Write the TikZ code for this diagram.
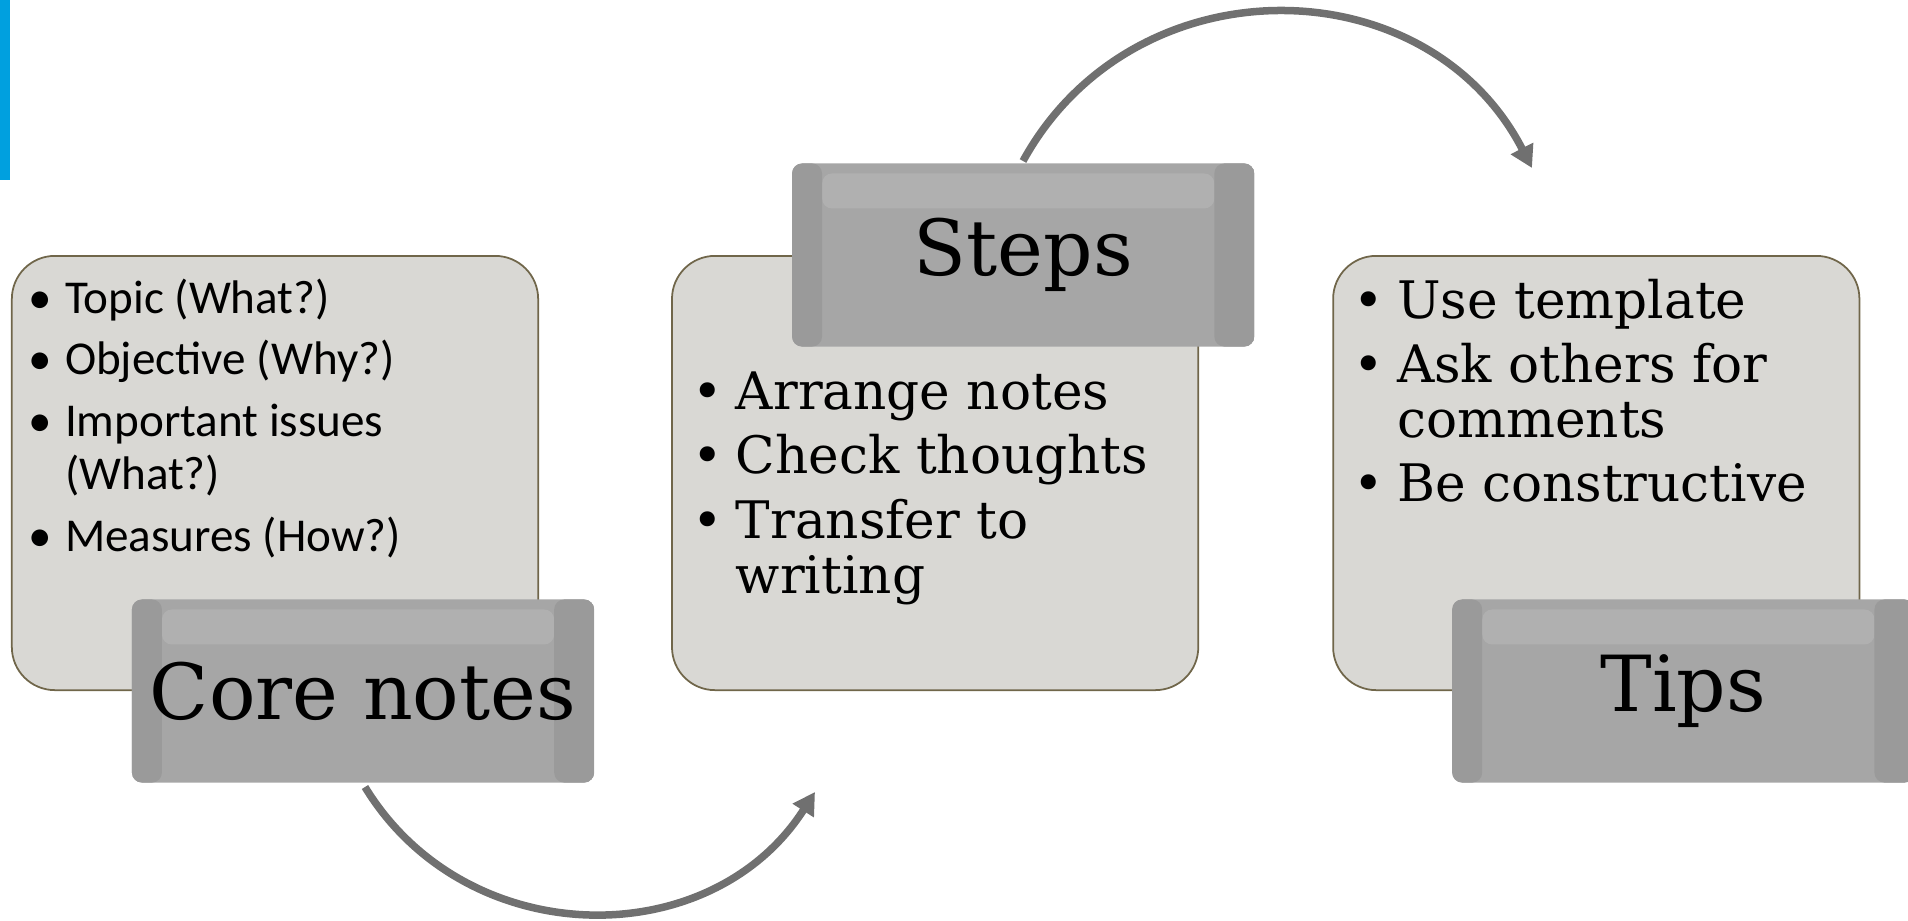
\documentclass[tikz,border=0pt]{standalone}
\usepackage{fontspec}
\usetikzlibrary{arrows.meta, positioning}
\newfontfamily\notefont{Carlito}
\newfontfamily\headfont{DejaVu Serif}
\definecolor{boxfill}{RGB}{217,216,212}
\definecolor{boxline}{RGB}{112,102,74}
\definecolor{labfill}{RGB}{166,166,166}
\definecolor{labdark}{RGB}{154,154,154}
\definecolor{lablight}{RGB}{176,176,176}
\definecolor{arrowgray}{RGB}{112,112,112}
\definecolor{barblue}{RGB}{0,160,223}
\newcommand{\itembul}{\makebox[9.5pt][l]{\hspace{-1pt}\textbullet}}
\newcommand{\itemgap}{\hspace*{9.5pt}}
\newcommand{\serifbul}{\makebox[10pt][l]{\hspace{-2.5pt}\textbullet}}
\newcommand{\serifgap}{\hspace*{10pt}}

\begin{document}
\begin{tikzpicture}[x=0.01cm, y=-0.01cm,
    notebox/.style={rectangle, rounded corners=0.43cm, draw=boxline, line width=0.5pt, fill=boxfill, minimum width=5.26cm, minimum height=4.34cm, inner sep=0pt},
    labelbox/.style={rectangle, rounded corners=0.1cm, fill=labfill, minimum width=4.62cm, minimum height=1.83cm, inner sep=0pt, font=\headfont\fontsize{22pt}{26pt}\selectfont,
      path picture={
        \fill[lablight] ([xshift=0.3cm, yshift=-0.1cm]path picture bounding box.north west) rectangle ([xshift=-0.4cm, yshift=-0.45cm]path picture bounding box.north east);
        \fill[labdark] (path picture bounding box.north west) rectangle ([xshift=0.3cm]path picture bounding box.south west);
        \fill[labdark] ([xshift=-0.4cm]path picture bounding box.north east) rectangle (path picture bounding box.south east);}},
    leftlist/.style={anchor=base west, inner sep=0pt, font=\notefont\fontsize{13.4pt}{15.1pt}\selectfont},
    seriflist/.style={anchor=base west, inner sep=0pt, font=\headfont\fontsize{14.7pt}{15.6pt}\selectfont},
    cyclearrow/.style={draw=arrowgray, line width=0.075cm, -{Triangle[length=0.22cm, width=0.24cm]}}]
  \useasboundingbox (0,0) rectangle (1908,920);
  \fill[barblue] (0,0) rectangle (10,180);%side bar
  % =============== boxes ====================
  \node (core) [notebox] at (275,473) {};%left box
  \node (steps) [notebox, right=1.32cm of core] {};%middle box
  \node (tips) [notebox, right=1.33cm of steps] {};%right box
  % =============== lists ====================
  \node (corelist) [leftlist, xshift=0.2cm, yshift=-0.58cm] at (core.north west) {\begin{tabular}[t]{@{}l@{}}
    \itembul Topic (What?)\\[2.5pt]
    \itembul Objective (Why?)\\[2.5pt]
    \itembul Important issues\\
    \itemgap (What?)\\[2.5pt]
    \itembul Measures (How?)\end{tabular}};
  \node (stepslist) [seriflist, xshift=0.29cm, yshift=-1.54cm] at (steps.north west) {\begin{tabular}[t]{@{}l@{}}
    \serifbul Arrange notes\\[2.6pt]
    \serifbul Check thoughts\\[2.6pt]
    \serifbul Transfer to\\
    \serifgap writing\end{tabular}};
  \node (tipslist) [seriflist, xshift=0.29cm, yshift=-0.63cm] at (tips.north west) {\begin{tabular}[t]{@{}l@{}}
    \serifbul Use template\\[2.6pt]
    \serifbul Ask others for\\
    \serifgap comments\\[2.6pt]
    \serifbul Be constructive\end{tabular}};
  % =============== labels ====================
  \node (corelab) [labelbox, xshift=0.88cm] at (core.south) {Core notes};
  \node (stepslab) [labelbox, xshift=0.88cm] at (steps.north) {Steps};
  \node (tipslab) [labelbox, xshift=0.87cm] at (tips.south) {Tips};
  % =============== arrows ====================
  \coordinate (botstart) at (365,787);
  \coordinate (botend) at (815,792);
  \draw[cyclearrow] (botstart) to[bend right=58, looseness=1.1] (botend);%core notes to steps
  \coordinate (topstart) at (1023,161);
  \coordinate (topend) at (1532,168);
  \draw[cyclearrow] (topstart) to[bend left=62, looseness=1.15] (topend);%steps to tips
\end{tikzpicture}
\end{document}
